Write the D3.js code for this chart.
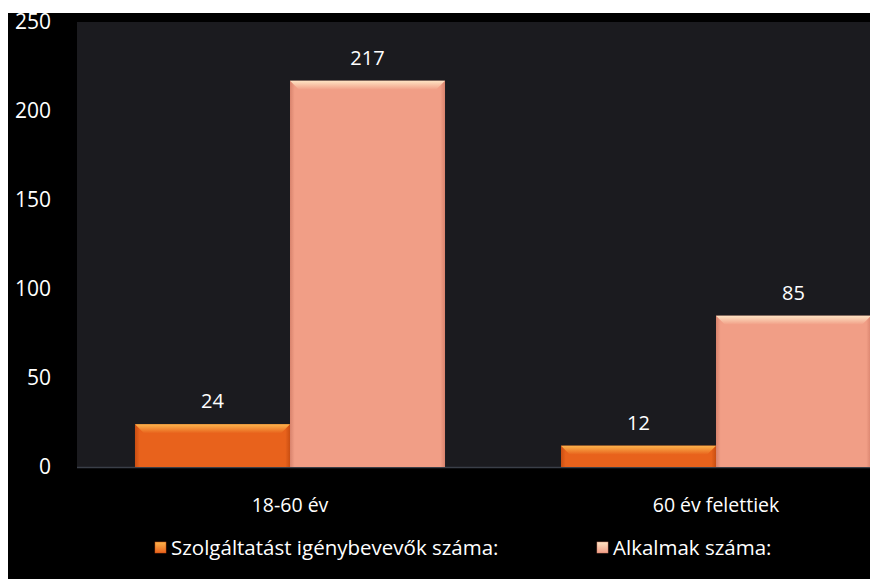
<!DOCTYPE html>
<html>
<head>
<meta charset="utf-8">
<script src="https://cdn.jsdelivr.net/npm/d3@7"></script>
<style>
  html, body { margin: 0; padding: 0; background: #fff; }
  svg { display: block; }
  text { font-family: "Open Sans", "Noto Sans", sans-serif; fill: #fff; }
</style>
</head>
<body>
<svg id="chart" width="870" height="579"></svg>
<script>
// data
const categories = ["18-60 év", "60 év felettiek"];
const seriesNames = ["Szolgáltatást igénybevevők száma:", "Alkalmak száma:"];
const usersValues = [24, 12];
const occasionValues = [217, 85];
const yTicks = [0, 50, 100, 150, 200, 250];

const colors = {
  "Szolgáltatást igénybevevők száma:": { base: "#e8621c", light: "#fcb44c", dark: "#c94e12" },
  "Alkalmak száma:": { base: "#f19e86", light: "#fee4c4", dark: "#d8836d" }
};

const rows = categories.map((c, i) => ({
  cat: c,
  vals: [
    { s: seriesNames[0], v: usersValues[i] },
    { s: seriesNames[1], v: occasionValues[i] }
  ]
}));

const svg = d3.select("#chart");
const W = 870, H = 579;
const plot = { left: 77, top: 22, bottom: 467, right: 929 };

// black frame
svg.append("rect").attr("x", 8).attr("y", 13).attr("width", W - 8).attr("height", H - 13).attr("fill", "#000");
// plot area
svg.append("rect").attr("x", plot.left).attr("y", plot.top)
   .attr("width", plot.right - plot.left).attr("height", plot.bottom - plot.top)
   .attr("fill", "#1b1b1f");

const x0 = d3.scaleBand().domain(categories).range([plot.left, plot.right]).padding(0);
const x1 = d3.scaleBand().domain(seriesNames).range([0, x0.bandwidth()]).paddingInner(0).paddingOuter(0.374);
const y = d3.scaleLinear().domain([0, 250]).range([plot.bottom, plot.top]);

// gradients for the bevelled look
const defs = svg.append("defs");
seriesNames.forEach((s, i) => {
  const c = colors[s];
  const g = defs.append("linearGradient").attr("id", "side" + i).attr("x1", 0).attr("x2", 1).attr("y1", 0).attr("y2", 0);
  g.append("stop").attr("offset", "0%").attr("stop-color", c.dark);
  g.append("stop").attr("offset", "3%").attr("stop-color", c.base);
  g.append("stop").attr("offset", "97%").attr("stop-color", c.base);
  g.append("stop").attr("offset", "100%").attr("stop-color", c.dark);
  const t = defs.append("linearGradient").attr("id", "top" + i).attr("x1", 0).attr("x2", 0).attr("y1", 0).attr("y2", 1);
  t.append("stop").attr("offset", "0%").attr("stop-color", c.light);
  t.append("stop").attr("offset", "100%").attr("stop-color", c.base);
});

// y axis
const yAxis = svg.append("g")
  .attr("transform", "translate(" + plot.left + ",0)")
  .call(d3.axisLeft(y).tickValues(yTicks).tickSize(0).tickPadding(26));
yAxis.select(".domain").remove();
yAxis.selectAll("text").style("font-size", "21px").attr("fill", "#fff");

// baseline
svg.append("line").attr("x1", plot.left).attr("x2", W).attr("y1", y(0) + 0.5).attr("y2", y(0) + 0.5)
   .attr("stroke", "#3a3f48").attr("stroke-width", 1.5);

// x axis labels
const xAxis = svg.append("g")
  .attr("transform", "translate(0," + y(0) + ")")
  .call(d3.axisBottom(x0).tickSize(0).tickPadding(31));
xAxis.select(".domain").remove();
xAxis.selectAll("text").style("font-size", "19.5px").attr("fill", "#fff");

// bars
const groups = svg.selectAll(".grp").data(rows).enter().append("g")
  .attr("class", "grp")
  .attr("transform", d => "translate(" + x0(d.cat) + ",0)");

const bars = groups.selectAll(".bar").data(d => d.vals).enter().append("g").attr("class", "bar");

bars.append("rect")
  .attr("x", d => x1(d.s))
  .attr("y", d => y(d.v))
  .attr("width", x1.bandwidth())
  .attr("height", d => y(0) - y(d.v))
  .attr("fill", d => "url(#side" + seriesNames.indexOf(d.s) + ")");

// top bevel
bars.append("path")
  .attr("d", d => {
    const xl = x1(d.s), xr = xl + x1.bandwidth(), yt = y(d.v), b = Math.min(9, (y(0) - y(d.v)) / 2);
    return "M" + xl + "," + yt + "L" + xr + "," + yt + "L" + (xr - b) + "," + (yt + b) + "L" + (xl + b) + "," + (yt + b) + "Z";
  })
  .attr("fill", d => "url(#top" + seriesNames.indexOf(d.s) + ")");

// value labels
bars.append("text")
  .attr("x", d => x1(d.s) + x1.bandwidth() / 2)
  .attr("y", d => y(d.v) - 16)
  .attr("text-anchor", "middle")
  .style("font-size", "20px")
  .text(d => d.v);

// legend
const legend = svg.append("g");
const legendX = [155, 597];
seriesNames.forEach((s, i) => {
  const g = legend.append("g").attr("transform", "translate(" + legendX[i] + ",548)");
  g.append("rect").attr("x", 0).attr("y", -6).attr("width", 11).attr("height", 11)
   .attr("fill", "url(#top" + i + ")").attr("stroke", colors[s].dark).attr("stroke-width", 0.5);
  g.append("text").attr("x", 16).attr("y", 0).attr("dy", "0.36em")
   .style("font-size", "20.5px").text(s);
});
</script>
</body>
</html>
